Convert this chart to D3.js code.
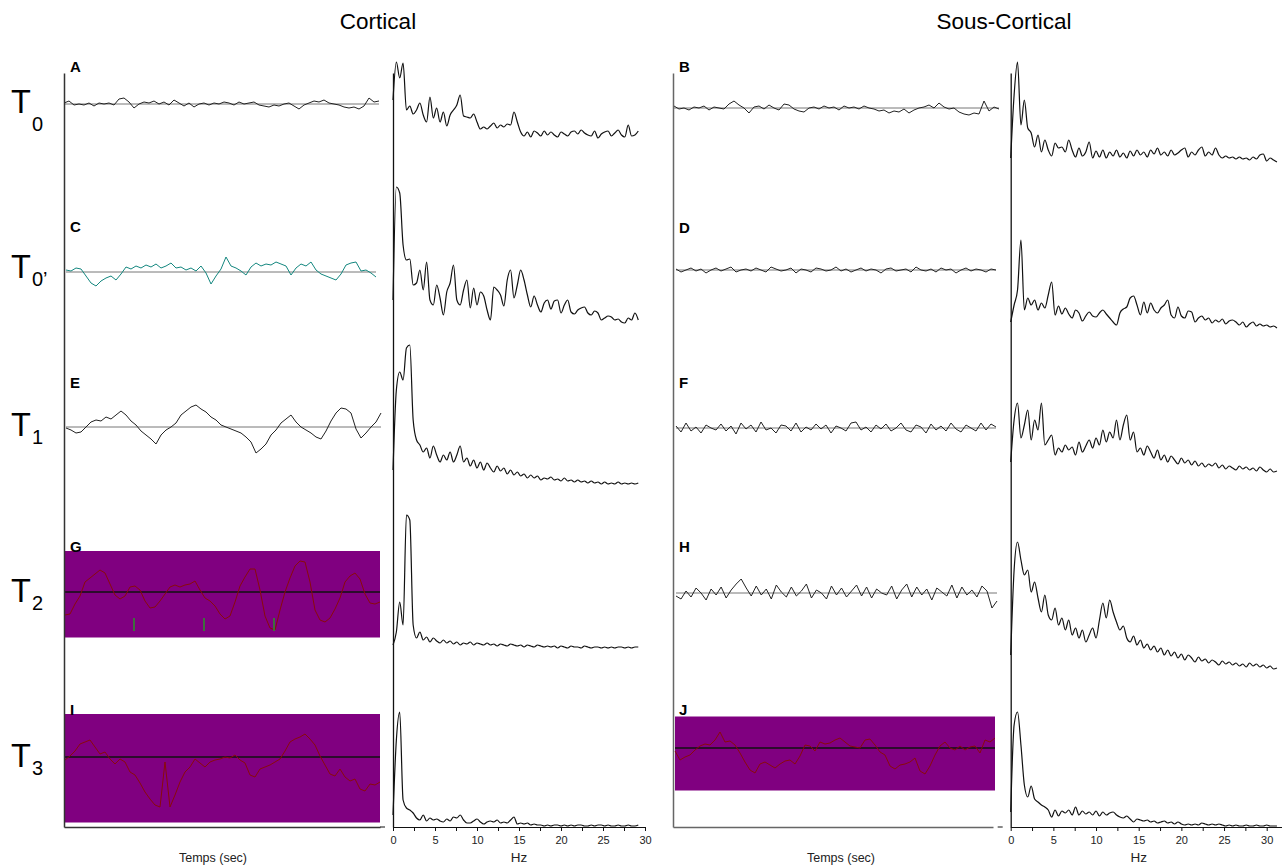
<!DOCTYPE html>
<html>
<head>
<meta charset="utf-8">
<script src="https://cdn.jsdelivr.net/npm/d3@7"></script>
<style>
  body { margin: 0; background: #fff; }
  svg { display: block; font-family: "Liberation Sans", Arial, sans-serif; }
</style>
</head>
<body>
<svg id="chart" width="1282" height="865"></svg>
<script>
// ---- data ----
// column titles and row labels
const columnTitles = ["Cortical", "Sous-Cortical"];
const rowSubscripts = ["0", "0\u2019", "1", "2", "3"];
const leftLetters = ["A", "C", "E", "G", "I"];
const rightLetters = ["B", "D", "F", "H", "J"];

// time traces (deviation from baseline, uV-ish units, uniform sampling)
const traceA = [1,3,-1,0,-1,1,-2,1,0,1,-1,5,6,2,-4,0,2,1,3,0,2,-1,4,1,-2,1,-3,0,1,-1,1,0,2,1,-1,2,0,1,2,-1,-2,-3,-1,-2,0,1,-2,-5,-1,1,3,2,4,1,0,-1,-3,-4,-3,-5,-2,6,2,3];
const traceC = [2,1,4,3,-4,-11,-14,-9,-6,-4,-8,-2,5,3,6,4,7,5,8,4,6,9,4,5,2,4,1,6,-1,-12,-4,3,15,6,4,1,-3,5,9,6,8,7,10,8,6,-3,4,8,6,10,2,-2,-4,-6,-8,-2,7,9,10,1,2,-1,-5];
const traceE = [-1,-3,-6,-5,0,5,7,6,10,8,12,16,12,6,2,-4,-8,-12,-17,-8,-3,0,4,12,16,20,22,18,15,10,7,2,0,-2,-4,-6,-10,-15,-26,-22,-17,-8,-3,4,8,12,5,0,-3,-6,-10,-12,-4,6,14,19,18,14,-2,-11,-6,0,5,14];
const traceG = [-23,-22,-12,-4,10,14,18,22,19,8,-3,-7,-4,5,6,2,-9,-16,-15,-9,-2,5,7,5,7,8,11,2,-6,-9,-14,-22,-27,-24,-10,6,15,23,23,2,-24,-36,-38,-18,0,14,26,31,30,10,-18,-28,-30,-26,-17,-6,10,16,19,13,-2,-11,-12,-10];
const traceI = [-3,1,6,13,15,17,10,3,5,-2,-7,-2,-5,-15,-18,-26,-35,-42,-48,-50,-5,-50,-38,-25,-15,-10,-2,-6,-10,-5,-3,-2,0,-1,2,-3,-6,-18,-20,-12,-10,-8,-5,-2,6,15,18,20,23,18,12,1,-8,-17,-19,-12,-20,-24,-22,-32,-34,-27,-28,-25];
const traceB = [2,-1,0,-2,1,0,2,-2,1,0,-1,4,7,3,0,-5,1,2,-1,3,0,-2,4,3,-1,-3,-4,0,1,-1,2,0,1,-2,2,0,1,-1,2,0,-1,-3,-2,-5,-3,-4,-1,-5,-2,0,1,3,0,5,1,-1,0,-4,-6,-7,-5,-6,7,-3,1,-1];
const traceD = [1,-2,0,2,-1,1,-3,0,2,-1,1,3,-2,0,1,-1,2,0,-2,3,1,-1,0,2,-3,1,0,-2,2,1,-1,0,3,-1,1,-2,0,2,-1,1,0,-3,1,2,-1,0,1,-2,3,0,-1,1,-2,2,0,1,-3,0,2,-1,1,0,-2,1,0];
const traceF = [2,-4,5,-3,1,-5,3,0,-2,4,-3,2,-6,5,-1,3,-4,6,-2,0,-5,3,2,-3,5,-4,1,-2,4,-1,3,-5,2,0,-3,5,6,-2,1,-4,3,-1,4,-3,0,5,-2,-4,3,1,-5,4,-2,2,-3,5,-1,-4,3,0,-3,5,-2,4,1];
const traceH = [-3,-6,2,-4,5,0,-7,4,-2,6,-5,3,9,14,5,-3,7,-2,4,-6,8,1,-4,6,-3,2,9,-5,3,0,-6,7,-2,5,-4,2,8,-3,6,-5,4,0,-2,7,-6,3,9,-4,6,-2,4,-7,5,1,-3,8,-5,6,-2,3,-4,7,2,-15,-8];
const traceJ = [-3,-12,-9,-7,-2,2,4,3,8,16,6,7,3,-5,-14,-22,-25,-16,-14,-17,-20,-16,-13,-12,-16,-8,3,2,-3,6,4,5,8,10,6,2,1,0,8,9,3,-4,-7,-18,-21,-17,-16,-14,-10,-23,-26,-18,-7,2,6,0,-2,2,-2,1,2,-5,8,6,10];

// event marks on trace G (sample index)
const marksG = [13.8, 27.8, 41.8];

// spectra: power (arbitrary units) every 0.4 Hz starting at 0 Hz
const specStep = 0.4;
const specA = [50,88,72,87,40,44,36,40,47,35,28,53,32,42,28,38,24,35,40,45,55,34,33,32,36,28,21,23,21,24,27,22,25,23,26,25,38,28,18,14,18,13,19,17,14,19,15,18,15,13,18,16,14,18,19,16,20,17,15,14,19,12,16,18,19,14,17,20,15,13,25,14,15,19];
const specC = [30,143,137,85,70,71,45,47,60,40,68,30,25,45,32,15,38,47,65,30,25,40,50,22,42,25,38,34,20,10,43,40,35,24,50,60,32,45,60,50,35,23,34,25,18,27,30,21,29,30,17,25,30,18,16,20,22,23,17,15,19,17,10,12,14,13,10,11,8,7,12,10,17,10];
const specE = [25,105,123,115,147,150,75,55,50,43,47,37,49,40,33,40,35,43,33,40,49,33,37,29,35,27,33,25,32,27,23,29,24,27,21,25,20,23,19,21,17,20,17,19,15,17,16,18,15,16,14,17,14,15,13,15,13,14,12,14,12,13,11,13,11,12,11,13,11,12,11,12,11,12];
const specG = [10,23,53,30,140,135,30,17,23,15,18,13,17,14,12,15,12,14,11,13,10,12,11,13,10,12,11,10,12,10,11,9,11,10,9,11,10,9,10,8,10,9,8,10,9,8,9,8,9,7,9,8,7,9,8,8,7,9,8,7,8,8,7,8,7,8,7,8,8,7,8,7,8,8];
const specI = [13,88,116,28,20,18,15,10,8,13,7,10,8,9,7,6,9,7,11,10,13,8,5,5,7,9,6,4,6,7,6,8,5,6,5,8,11,4,5,4,5,3,4,3,3,2,3,2,3,3,2,3,2,3,2,3,3,2,2,3,2,3,3,2,3,2,2,3,2,2,3,2,2,3];
const specB = [7,70,103,40,65,37,32,18,30,13,25,15,9,22,17,18,13,25,15,8,17,9,13,23,7,14,8,15,7,13,9,15,8,12,7,14,9,15,10,13,8,15,11,17,10,13,9,15,10,12,15,17,8,13,10,15,18,9,13,10,17,10,7,9,7,8,6,8,6,7,5,8,6,10,11,4,7,5,3];
const specD = [13,30,45,95,25,37,30,35,25,32,27,40,53,20,29,21,27,21,17,25,22,14,19,23,19,18,22,25,21,17,13,10,22,26,28,37,39,30,20,33,22,32,25,22,27,30,35,20,17,28,19,17,24,23,13,17,19,15,17,12,15,13,16,11,14,15,13,10,13,8,11,13,9,11,9,10,8,9,7];
const specF = [18,60,77,42,55,70,40,60,50,77,35,40,45,25,32,28,35,30,33,25,38,28,34,40,32,42,35,50,38,48,42,60,40,55,65,40,48,28,32,25,34,28,22,30,20,25,18,24,20,16,22,17,20,15,19,14,17,13,16,14,17,12,15,11,14,12,10,14,11,13,10,12,9,13,10,8,11,8,9];
const specH = [25,110,138,120,105,110,88,98,82,68,85,65,60,72,55,62,50,60,45,52,42,50,38,45,52,42,60,77,62,80,68,58,50,54,42,38,44,35,40,32,36,30,34,28,32,25,30,24,28,22,26,20,25,22,18,23,19,21,17,20,18,15,19,16,18,15,17,14,16,13,17,14,16,13,15,12,14,11,12];
const specJ = [16,103,116,83,43,31,42,29,26,23,21,18,11,18,12,17,15,18,13,21,13,17,14,16,13,17,12,16,13,15,16,13,11,10,12,9,6,9,8,7,8,6,7,5,6,7,5,6,4,6,4,3,4,3,4,3,5,4,3,4,3,4,3,2,3,2,3,2,2,3,2,2,3,2,2,3,2,2,2];

// frequency axis ticks
const hzTicks = [0, 2.5, 5, 7.5, 10, 12.5, 15, 17.5, 20, 22.5, 25, 27.5, 30];

// ---- layout ----
const svg = d3.select("#chart");
const axisY = 827, axisTop = 73;
const purple = "#800080", darkRed = "#8b0a0a";

const columns = [
  {
    title: columnTitles[0], titleX: 378,
    letters: leftLetters,
    traces: [traceA, traceC, traceE, traceG, traceI],
    spectra: [specA, specC, specE, specG, specI],
    timeAxisX: 64, timeAxisEnd: 380, timeLabelX: 213,
    extents: [[64, 379], [66, 376], [66, 381], [65, 380], [65, 380]],
    bases: [104, 272, 427, 592, 757],
    colors: ["#222", "#14877f", "#222", darkRed, darkRed],
    boxes: [null, null, null, [551, 637.5], [714, 822.5]],
    letterY: [72, 232, 388, 552, 715],
    specRange: [393, 645], specAxisMax: 30, bottoms: [150, 330, 495, 655, 828],
    axisColor: "#333"
  },
  {
    title: columnTitles[1], titleX: 1004,
    letters: rightLetters,
    traces: [traceB, traceD, traceF, traceH, traceJ],
    spectra: [specB, specD, specF, specH, specJ],
    timeAxisX: 673, timeAxisEnd: 993, timeLabelX: 841,
    extents: [[674, 999], [676, 996], [676, 996], [676, 997], [675, 995]],
    bases: [108, 270, 428, 593, 748],
    colors: ["#222", "#222", "#222", "#222", darkRed],
    boxes: [null, null, null, null, [716.5, 790.5]],
    letterY: [72, 233, 388, 552, 715],
    specRange: [1010.7, 1266.7], specAxisMax: 31.9, bottoms: [165, 335, 480, 680, 828],
    axisColor: "#666"
  }
];

// row labels T0 ... T3
const rowT = [113, 278, 436, 602, 767];
const rowSub = [131, 286, 444, 610, 775];
rowSubscripts.forEach((s, i) => {
  const t = svg.append("text").attr("x", 11).attr("y", rowT[i])
    .attr("font-size", 32.5).attr("fill", "#000").text("T");
  svg.append("text").attr("x", 32).attr("y", rowSub[i])
    .attr("font-size", 20).attr("fill", "#000").text(s);
});

columns.forEach(col => {
  svg.append("text")
    .attr("x", col.titleX).attr("y", 29)
    .attr("text-anchor", "middle")
    .attr("font-size", 22.5)
    .text(col.title);

  const specX = d3.scaleLinear().domain([0, 30]).range(col.specRange);

  col.traces.forEach((tr, i) => {
    const ext = col.extents[i];
    const base = col.bases[i];
    const x = d3.scaleLinear().domain([0, tr.length - 1]).range(ext);
    const y = d3.scaleLinear().domain([-50, 50]).range([base + 50, base - 50]);
    const box = col.boxes[i];

    if (box) {
      svg.append("rect")
        .attr("x", ext[0]).attr("y", box[0])
        .attr("width", ext[1] - ext[0]).attr("height", box[1] - box[0])
        .attr("fill", purple);
    }

    svg.append("line")
      .attr("x1", ext[0]).attr("x2", ext[1])
      .attr("y1", y(0)).attr("y2", y(0))
      .attr("stroke", box ? "#111" : "#777")
      .attr("stroke-width", box ? 1.4 : 1);

    svg.append("path")
      .datum(tr)
      .attr("fill", "none")
      .attr("stroke", col.colors[i])
      .attr("stroke-width", 1)
      .attr("stroke-linejoin", "round")
      .attr("d", d3.line().x((d, k) => x(k)).y(d => y(d)));

    if (col.letters[i] === "G") {
      svg.selectAll(".markG")
        .data(marksG)
        .enter().append("line")
        .attr("class", "markG")
        .attr("x1", d => x(d)).attr("x2", d => x(d))
        .attr("y1", y(-26)).attr("y2", y(-39))
        .attr("stroke", "#2e8b2e").attr("stroke-width", 1.6);
    }

    svg.append("text")
      .attr("x", col.timeAxisX + 6).attr("y", col.letterY[i])
      .attr("font-size", 15).attr("font-weight", "bold")
      .text(col.letters[i]);

    // spectrum
    const spec = col.spectra[i];
    const bottom = col.bottoms[i];
    const sy = d3.scaleLinear().domain([0, 150]).range([bottom, bottom - 150]);
    svg.append("path")
      .datum(spec)
      .attr("fill", "none")
      .attr("stroke", "#111")
      .attr("stroke-width", 1.2)
      .attr("stroke-linejoin", "round")
      .attr("d", d3.line()
        .x((d, k) => specX(k * specStep))
        .y(d => sy(d))
        .curve(d3.curveMonotoneX));
  });

  // time axes (no ticks)
  const vScale = d3.scaleLinear().domain([0, 1]).range([axisY, axisTop]);
  svg.append("g")
    .attr("transform", `translate(${col.timeAxisX},0)`)
    .call(d3.axisLeft(vScale).tickValues([]).tickSizeOuter(0))
    .select(".domain").attr("stroke", col.axisColor).attr("stroke-width", 1.5);
  const tScale = d3.scaleLinear().domain([0, 1]).range([col.timeAxisX, col.timeAxisEnd]);
  svg.append("g")
    .attr("transform", `translate(0,${axisY})`)
    .call(d3.axisBottom(tScale).tickValues([]).tickSizeOuter(0))
    .select(".domain").attr("stroke", col.axisColor).attr("stroke-width", 1.5);
  svg.append("text")
    .attr("x", col.timeLabelX).attr("y", 862)
    .attr("text-anchor", "middle").attr("font-size", 12.5).attr("fill", "#222")
    .text("Temps (sec)");

  // spectrum axes
  svg.append("g")
    .attr("transform", `translate(${col.specRange[0]},0)`)
    .call(d3.axisLeft(vScale).tickValues([]).tickSizeOuter(0))
    .select(".domain").attr("stroke", "#111").attr("stroke-width", 1.3);
  svg.append("line")
    .attr("x1", col.specRange[0] - 13).attr("x2", col.specRange[0] - 8)
    .attr("y1", axisY).attr("y2", axisY)
    .attr("stroke", "#111");
  const hzAxisScale = d3.scaleLinear().domain([0, col.specAxisMax])
    .range([specX(0), specX(col.specAxisMax)]);
  const hz = svg.append("g")
    .attr("transform", `translate(0,${axisY})`)
    .call(d3.axisBottom(hzAxisScale)
      .tickValues(hzTicks)
      .tickSize(4).tickSizeOuter(0).tickPadding(5)
      .tickFormat(d => d % 5 === 0 ? d : ""));
  hz.selectAll("text").attr("font-size", 11).attr("font-family", "Liberation Sans, Arial, sans-serif").attr("fill", "#222");
  hz.selectAll("line, path").attr("stroke", "#111");
  svg.append("text")
    .attr("x", specX(15)).attr("y", 862)
    .attr("text-anchor", "middle").attr("font-size", 13.5).attr("fill", "#222")
    .text("Hz");
});
</script>
</body>
</html>
